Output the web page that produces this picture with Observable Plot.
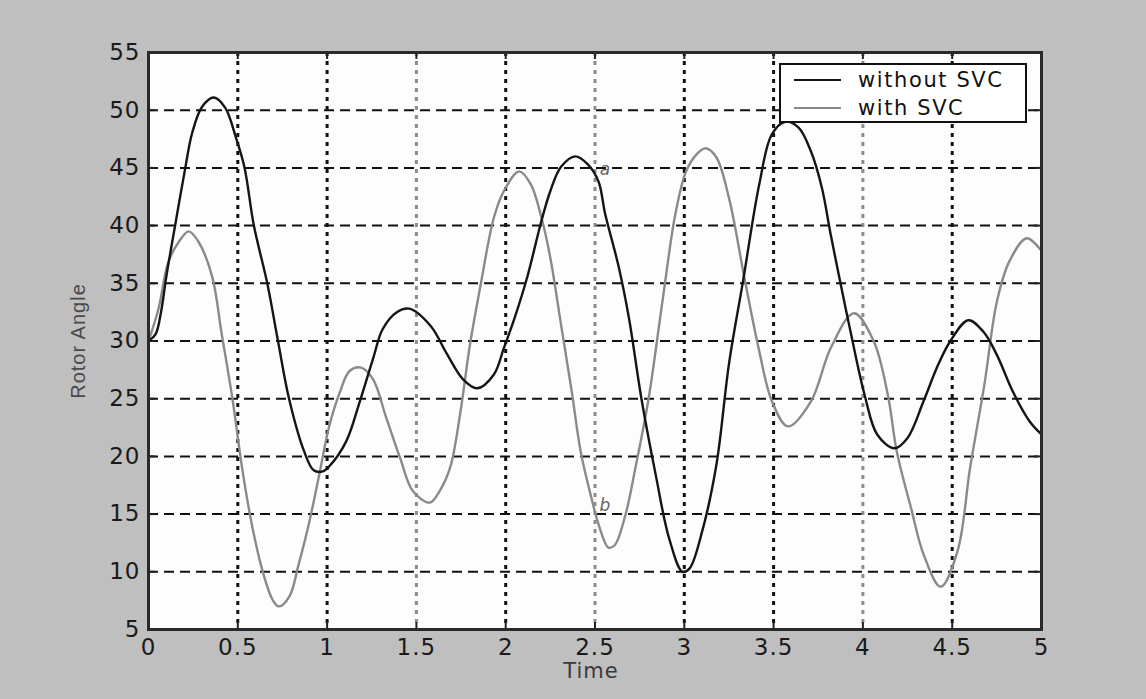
<!DOCTYPE html>
<html>
<head>
<meta charset="utf-8">
<script src="https://cdn.jsdelivr.net/npm/d3@7"></script>
<script src="https://cdn.jsdelivr.net/npm/@observablehq/plot@0.6"></script>
<style>
  html, body { margin: 0; padding: 0; background: #bfbfbf; }
  #wrap { position: relative; width: 1146px; height: 699px; background: #bfbfbf; }
  #legend {
    position: absolute; left: 779px; top: 63px; width: 244px; height: 56px;
    background: #fff; border: 2px solid #111; font-family: "DejaVu Sans", sans-serif;
    font-size: 21px; letter-spacing: 1.6px; color: #111;
  }
  .row { position: absolute; left: 0; height: 28px; display: flex; align-items: center; }
  .row .sw { width: 47px; height: 0; margin-left: 13px; margin-right: 17px; border-top: 2px solid; }
</style>
</head>
<body>
<div id="wrap"></div>
<script>
// ---- data ----
const xTicks = [0, 0.5, 1, 1.5, 2, 2.5, 3, 3.5, 4, 4.5, 5];
const yTicks = [5, 10, 15, 20, 25, 30, 35, 40, 45, 50, 55];
const seriesNames = ["without SVC", "with SVC"];

const tWithout = [0, 0.04, 0.07, 0.1, 0.15, 0.206, 0.244, 0.30, 0.366, 0.43, 0.49, 0.538, 0.59, 0.665, 0.725, 0.787, 0.87, 0.925, 0.976, 1.01, 1.107, 1.18, 1.26, 1.31, 1.39, 1.46, 1.58, 1.67, 1.76, 1.84, 1.934, 1.99, 2.05, 2.12, 2.2, 2.25, 2.31, 2.39, 2.46, 2.52, 2.557, 2.63, 2.69, 2.76, 2.84, 2.915, 2.99, 3.03, 3.10, 3.18, 3.25, 3.33, 3.42, 3.49, 3.565, 3.64, 3.71, 3.77, 3.82, 3.88, 3.935, 4.01, 4.08, 4.176, 4.25, 4.34, 4.42, 4.49, 4.59, 4.675, 4.75, 4.84, 4.935, 5];
const vWithout = [30, 30.6, 32.5, 35.6, 40.1, 45, 48, 50.3, 51.1, 50.2, 47.6, 45, 40, 35, 30, 25, 20.5, 18.8, 18.7, 19.1, 21.3, 24.6, 28.6, 31, 32.5, 32.8, 31.3, 28.9, 26.7, 25.9, 27.1, 29.4, 32, 35.5, 40.4, 43, 45.1, 46, 45.3, 43.8, 41, 36.6, 32, 25, 18.4, 12.9, 10, 10.3, 13.5, 19.3, 28, 35.3, 43.6, 47.9, 49, 48.5, 46.4, 43.3, 39.2, 34.6, 30.5, 25.3, 21.9, 20.7, 21.6, 24.8, 27.9, 30, 31.8, 30.8, 28.8, 25.6, 23, 21.9];

const tWith = [0, 0.056, 0.11, 0.17, 0.225, 0.28, 0.356, 0.41, 0.47, 0.525, 0.58, 0.64, 0.694, 0.73, 0.79, 0.84, 0.90, 0.957, 1.01, 1.07, 1.126, 1.19, 1.257, 1.33, 1.41, 1.48, 1.576, 1.63, 1.69, 1.745, 1.80, 1.86, 1.934, 1.99, 2.075, 2.14, 2.2, 2.25, 2.31, 2.37, 2.42, 2.48, 2.52, 2.575, 2.61, 2.67, 2.73, 2.8, 2.88, 2.95, 3.01, 3.07, 3.12, 3.18, 3.25, 3.34, 3.42, 3.49, 3.58, 3.71, 3.82, 3.95, 4.06, 4.14, 4.19, 4.27, 4.34, 4.435, 4.53, 4.6, 4.68, 4.75, 4.82, 4.917, 5];
const vWith = [30, 32.8, 36.8, 38.6, 39.5, 38.6, 35.6, 30.6, 25, 18.9, 14, 10, 7.6, 7, 7.9, 10.6, 14.3, 18.5, 22.5, 25.5, 27.4, 27.7, 26.7, 23.4, 19.8, 17, 16, 17, 19.1, 23.7, 29.7, 34.9, 40.7, 43, 44.7, 43.6, 40.7, 37.2, 31.4, 25.6, 20.4, 16.4, 14.1, 12.1, 12.3, 14.9, 19.3, 25, 33.7, 41, 44.7, 46.2, 46.7, 45.9, 42.4, 35.2, 29.1, 24.8, 22.6, 24.8, 29.4, 32.4, 30, 25.3, 20.4, 15.5, 11.5, 8.7, 11.8, 19, 26.2, 33.4, 36.9, 38.9, 37.8];

const noteLabels = ["a", "b"];
const noteT = [2.53, 2.53];
const noteV = [44.9, 15.7];

// ---- build ----
const colors = {"without SVC": "#151515", "with SVC": "#8a8a8a"};
const rows = [
  ...tWithout.map((t, i) => ({t, v: vWithout[i], s: seriesNames[0]})),
  ...tWith.map((t, i) => ({t, v: vWith[i], s: seriesNames[1]}))
];
const notes = noteLabels.map((l, i) => ({l, t: noteT[i], v: noteV[i]}));
const innerX = xTicks.slice(1, -1);
const innerY = yTicks.slice(1, -1);
const lightGrid = [1.5, 2.5, 4];

const W = 1146, H = 699, mL = 148, mR = 105, mT = 52, mB = 70;
const pw = W - mL - mR, ph = H - mT - mB;

const chart = Plot.plot({
  width: W, height: H,
  marginLeft: mL, marginRight: mR, marginTop: mT, marginBottom: mB,
  style: {background: "transparent", fontFamily: "DejaVu Sans, sans-serif", fontSize: "23px", color: "#1a1a1a", letterSpacing: "1px"},
  x: {domain: [0, 5]},
  y: {domain: [5, 55]},
  marks: [
    Plot.frame({fill: "#fdfdfd", stroke: null}),
    Plot.ruleY(innerY, {y: d => d, stroke: "#111", strokeWidth: 2, strokeDasharray: "10,6"}),
    Plot.ruleX(innerX, {x: d => d, stroke: d => lightGrid.includes(d) ? "#8c8c8c" : "#111", strokeWidth: 3, strokeDasharray: "4,5"}),
    Plot.line(rows.filter(d => d.s === seriesNames[1]), {x: "t", y: "v", stroke: colors["with SVC"], strokeWidth: 2.4, curve: "catmull-rom"}),
    Plot.line(rows.filter(d => d.s === seriesNames[0]), {x: "t", y: "v", stroke: colors["without SVC"], strokeWidth: 2.4, curve: "catmull-rom"}),
    Plot.text(notes, {x: "t", y: "v", text: "l", fill: "#666", fontSize: 17, dx: 5, fontStyle: "italic"}),
    // inward ticks
    Plot.tickX(xTicks, {x: d => d, stroke: "#222", strokeWidth: 2, insetTop: ph - 7}),
    Plot.tickX(xTicks, {x: d => d, stroke: "#222", strokeWidth: 2, insetBottom: ph - 7}),
    Plot.tickY(yTicks, {y: d => d, stroke: "#222", strokeWidth: 2, insetRight: pw - 7}),
    Plot.tickY(yTicks, {y: d => d, stroke: "#222", strokeWidth: 2, insetLeft: pw - 7}),
    Plot.frame({stroke: "#2a2a2a", strokeWidth: 3}),
    Plot.axisX(xTicks, {tickSize: 0, tickPadding: 9, label: null, tickFormat: d => String(d), fill: "#1a1a1a"}),
    Plot.axisY(yTicks, {tickSize: 0, tickPadding: 8, label: null, tickFormat: d => String(d), fill: "#1a1a1a"}),
    Plot.text(["Time"], {frameAnchor: "bottom", dy: 48, dx: -4, fontSize: 21, fill: "#3a3a3a"}),
    Plot.text(["Rotor Angle"], {frameAnchor: "left", dx: -70, rotate: -90, textAnchor: "middle", fontSize: 20, fill: "#4a4a4a", fontFamily: "Liberation Sans, Arial, sans-serif", letterSpacing: "0.3px"})
  ]
});

const wrap = document.getElementById("wrap");
wrap.appendChild(chart);

const legend = document.createElement("div");
legend.id = "legend";
seriesNames.forEach((name, i) => {
  const r = document.createElement("div");
  r.className = "row";
  r.style.top = (i * 28 + 1) + "px";
  const sw = document.createElement("span");
  sw.className = "sw";
  sw.style.borderColor = colors[name];
  const lab = document.createElement("span");
  lab.textContent = name;
  r.appendChild(sw); r.appendChild(lab);
  legend.appendChild(r);
});
wrap.appendChild(legend);
</script>
</body>
</html>
